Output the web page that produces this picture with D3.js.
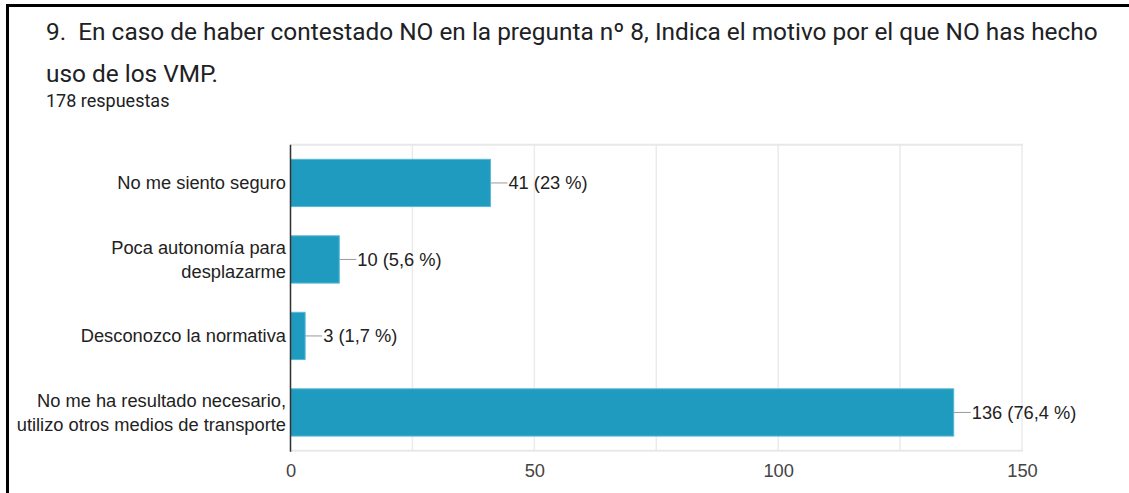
<!DOCTYPE html>
<html>
<head>
<meta charset="utf-8">
<script src="https://cdn.jsdelivr.net/npm/d3@7"></script>
<style>
  body { margin: 0; background: #fff; }
  svg { display: block; }
  .title { white-space: pre; }
</style>
</head>
<body>
<div id="chart-area"></div>
<script>
// chart size
var width = 1129,
	height = 493;

// data
let titleLines = ["9.  En caso de haber contestado NO en la pregunta nº 8, Indica el motivo por el que NO has hecho", "uso de los VMP."];
let subtitle = "178 respuestas";
let categories = ["No me siento seguro", "Poca autonomía para desplazarme", "Desconozco la normativa", "No me ha resultado necesario, utilizo otros medios de transporte"];
let categoryLines = [["No me siento seguro"], ["Poca autonomía para", "desplazarme"], ["Desconozco la normativa"], ["No me ha resultado necesario,", "utilizo otros medios de transporte"]];
let values = [41, 10, 3, 136];
let percents = ["23 %", "5,6 %", "1,7 %", "76,4 %"];
let gridValues = [0, 25, 50, 75, 100, 125, 150];
let tickValues = [0, 50, 100, 150];

let data = categories.map((c, i) => ({
	category: c,
	lines: categoryLines[i],
	value: values[i],
	pct: percents[i]
}));

let plot = {left: 290.5, right: 1022, top: 144.7, bottom: 450.7};
let labelFont = '"Liberation Sans", Arial, sans-serif';

let svg = d3.select('#chart-area').append('svg')
	.attr('width', width)
	.attr('height', height);

// card border (top + left)
svg.append('line')
	.attr('x1', 6).attr('x2', width)
	.attr('y1', 5.5).attr('y2', 5.5)
	.attr('stroke', '#000').attr('stroke-width', 3);
svg.append('line')
	.attr('x1', 7.5).attr('x2', 7.5)
	.attr('y1', 4).attr('y2', height)
	.attr('stroke', '#000').attr('stroke-width', 3);

// title
svg.selectAll('.title')
	.data(titleLines)
	.enter()
	.append('text')
	.attr('class', 'title')
	.attr('x', 46)
	.attr('y', (d, i) => 40 + i * 41.7)
	.attr('font-family', 'Roboto, sans-serif')
	.attr('font-size', 24.4)
	.attr('fill', '#202124')
	.text(d => d);

svg.append('text')
	.attr('x', 46)
	.attr('y', 107.3)
	.attr('font-family', 'Roboto, sans-serif')
	.attr('font-size', 18)
	.attr('fill', '#202124')
	.text(subtitle);

// scales
let xScale = d3.scaleLinear()
	.domain([0, 150])
	.range([plot.left, plot.right]);

let yScale = d3.scaleBand()
	.domain(categories)
	.range([plot.top, plot.bottom])
	.paddingInner(0.382)
	.paddingOuter(0.191);

// gridlines
svg.selectAll('.grid')
	.data(gridValues)
	.enter()
	.append('line')
	.attr('class', 'grid')
	.attr('x1', d => xScale(d)).attr('x2', d => xScale(d))
	.attr('y1', plot.top).attr('y2', plot.bottom)
	.attr('stroke', '#ebebeb')
	.attr('stroke-width', 1.5);

[plot.top, plot.bottom].forEach(yy => {
	svg.append('line')
		.attr('x1', plot.left).attr('x2', plot.right + 1)
		.attr('y1', yy).attr('y2', yy)
		.attr('stroke', '#e8e8e8')
		.attr('stroke-width', 2);
});

// bars
svg.selectAll('.bar')
	.data(data)
	.enter()
	.append('rect')
	.attr('class', 'bar')
	.attr('x', xScale(0))
	.attr('y', d => yScale(d.category))
	.attr('width', d => xScale(d.value) - xScale(0))
	.attr('height', yScale.bandwidth())
	.attr('fill', '#1f9bc0')
	.attr('stroke', '#5ab8d6')
	.attr('stroke-width', 1);

// left axis line
svg.append('line')
	.attr('x1', plot.left).attr('x2', plot.left)
	.attr('y1', plot.top).attr('y2', plot.bottom + 1)
	.attr('stroke', '#333')
	.attr('stroke-width', 1.5);

// value labels with leader lines
let labels = svg.selectAll('.val')
	.data(data)
	.enter()
	.append('g')
	.attr('class', 'val')
	.attr('transform', d => `translate(${xScale(d.value)}, ${yScale(d.category) + yScale.bandwidth() / 2})`);

labels.append('line')
	.attr('x1', 0).attr('x2', 17)
	.attr('y1', 0).attr('y2', 0)
	.attr('stroke', '#999')
	.attr('stroke-width', 1);

labels.append('text')
	.attr('x', 18)
	.attr('y', 6.5)
	.attr('font-family', labelFont)
	.attr('font-size', 18.3)
	.attr('fill', '#222')
	.text(d => d.value + ' (' + d.pct + ')');

// category labels
let catLabels = svg.selectAll('.cat')
	.data(data)
	.enter()
	.append('text')
	.attr('class', 'cat')
	.attr('text-anchor', 'end')
	.attr('font-family', labelFont)
	.attr('font-size', 18.3)
	.attr('fill', '#222');

catLabels.selectAll('tspan')
	.data(d => d.lines.map((l, i) => ({
		text: l,
		y: yScale(d.category) + yScale.bandwidth() / 2 + 6.5 - (d.lines.length - 1) * 12 + i * 24
	})))
	.enter()
	.append('tspan')
	.attr('x', 286)
	.attr('y', d => d.y)
	.text(d => d.text);

// x axis labels
let xaxis = d3.axisBottom()
	.scale(xScale)
	.tickValues(tickValues)
	.tickSize(0)
	.tickPadding(13)
	.tickFormat(d3.format('d'));

let gx = svg.append('g')
	.attr('class', 'x-axis')
	.attr('transform', 'translate(0,' + plot.bottom + ')')
	.call(xaxis);

gx.select('.domain').remove();
gx.selectAll('text')
	.attr('font-family', labelFont)
	.attr('font-size', 18.3)
	.attr('fill', '#444');
</script>
</body>
</html>
